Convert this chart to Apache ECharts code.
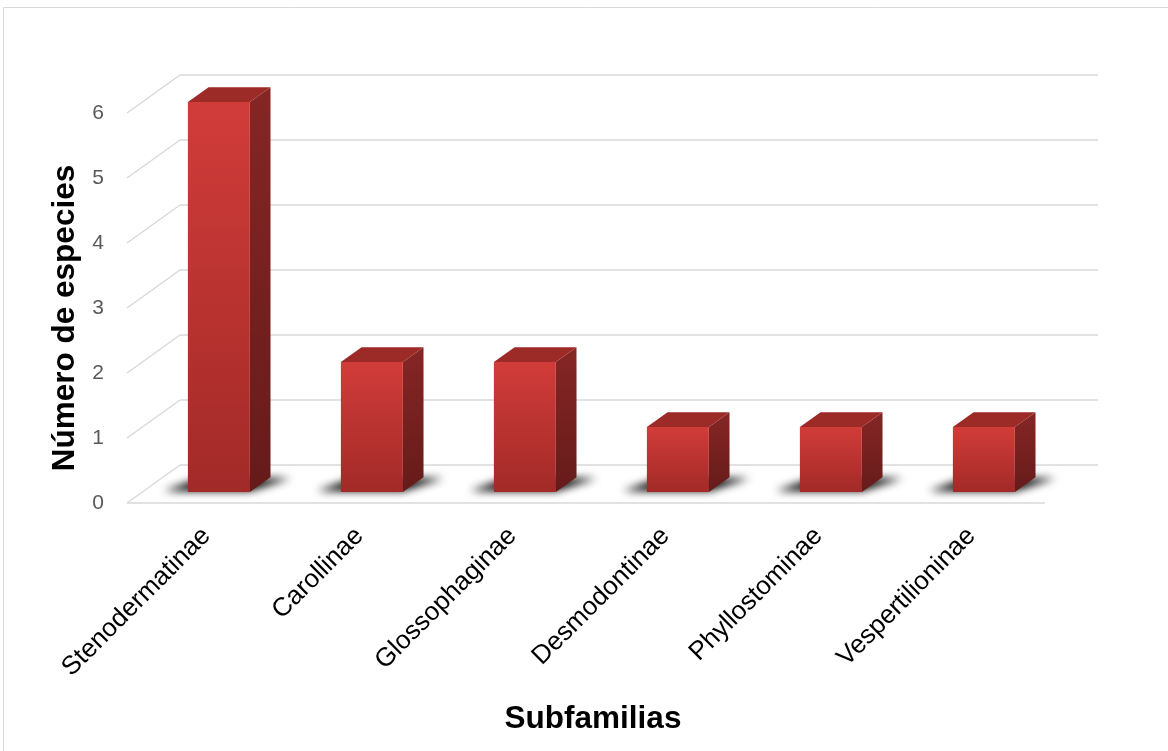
<!DOCTYPE html>
<html>
<head>
<meta charset="utf-8">
<script src="https://cdn.jsdelivr.net/npm/echarts@6/dist/echarts.min.js"></script>
<style>
html, body { margin: 0; padding: 0; background: #fff; }
#chart { width: 1168px; height: 751px; }
</style>
</head>
<body>
<div id="chart"></div>
<script>
var categories = ['Stenodermatinae', 'Carollinae', 'Glossophaginae', 'Desmodontinae', 'Phyllostominae', 'Vespertilioninae'];
var speciesCount = [6, 2, 2, 1, 1, 1];
var yTicks = [0, 1, 2, 3, 4, 5, 6];

// fake 3d: how far the back wall sits from the front plane
var DEPTH_X = 53, DEPTH_Y = -38;
var BAR_FRONT = 0.29, BAR_BACK = 0.68;
var SHADOW_SHIFT = 3000;

var chart = echarts.init(document.getElementById('chart'));

var gridLine = { stroke: '#d9d9d9', lineWidth: 1.5 };

function renderWall(params, api) {
    var v = api.value(1);
    var cs = params.coordSys;
    var y = api.coord([0, v])[1];
    var x0 = cs.x, x1 = cs.x + cs.width;
    var children = [
        { type: 'line', shape: { x1: x0, y1: y, x2: x0 + DEPTH_X, y2: y + DEPTH_Y }, style: gridLine },
        { type: 'line', shape: { x1: x0 + DEPTH_X, y1: y + DEPTH_Y, x2: x1 + DEPTH_X, y2: y + DEPTH_Y }, style: gridLine }
    ];
    if (v === 0) {
        children.push({ type: 'line', shape: { x1: x0, y1: y, x2: x1, y2: y }, style: gridLine });
    }
    return { type: 'group', children: children };
}

function renderBar(params, api) {
    var i = api.value(0), v = api.value(1);
    var top = api.coord([i, v]);
    var base = api.coord([i, 0]);
    var band = api.size([1, 0])[0];
    var w = band * 0.405;
    var fx = DEPTH_X * BAR_FRONT, fy = DEPTH_Y * BAR_FRONT;
    var ox = DEPTH_X * (BAR_BACK - BAR_FRONT), oy = DEPTH_Y * (BAR_BACK - BAR_FRONT);
    var L = top[0] + fx - w / 2, R = L + w;
    var yT = top[1] + fy, yB = base[1] + fy;
    var S = SHADOW_SHIFT;
    var shadowPts = [[L - 24, yB - 1], [R, yB - 1], [R + ox + 20, yB + oy + 1], [L + ox - 8, yB + oy + 1]];

    return {
        type: 'group',
        children: [
            // floor shadow: the shape is pushed off canvas, only its blur lands here
            {
                type: 'polygon',
                shape: { points: shadowPts.map(function (p) { return [p[0] - S, p[1]]; }) },
                style: { fill: '#000', shadowBlur: 9, shadowColor: 'rgba(0,0,0,1)', shadowOffsetX: S, shadowOffsetY: 0 }
            },
            {
                type: 'polygon',
                shape: { points: [[R, yB], [R, yT], [R + ox, yT + oy], [R + ox, yB + oy]] },
                style: {
                    fill: { type: 'linear', x: 0, y: 0, x2: 0, y2: 1, colorStops: [
                        { offset: 0, color: '#862625' }, { offset: 1, color: '#651b1a' }] }
                }
            },
            {
                type: 'polygon',
                shape: { points: [[L, yT], [R, yT], [R + ox, yT + oy], [L + ox, yT + oy]] },
                style: { fill: '#9c2a27' }
            },
            {
                type: 'rect',
                shape: { x: L, y: yT, width: w, height: yB - yT },
                style: {
                    fill: { type: 'linear', x: 0, y: 0, x2: 0, y2: 1, colorStops: [
                        { offset: 0, color: '#d13c39' }, { offset: 1, color: '#a22a28' }] }
                }
            },
            {
                type: 'text',
                x: base[0] + 3,
                y: base[1] + 29,
                rotation: Math.PI / 4,
                style: {
                    text: categories[i],
                    fill: '#000',
                    font: '26px "Liberation Sans", Arial, sans-serif',
                    align: 'right',
                    verticalAlign: 'middle'
                }
            }
        ]
    };
}

chart.setOption({
    animation: false,
    grid: { left: 127, right: 123, top: 113, bottom: 248, outerBoundsMode: 'none' },
    xAxis: {
        type: 'category',
        data: categories,
        axisLine: { show: false },
        axisTick: { show: false },
        axisLabel: { show: false }
    },
    yAxis: {
        type: 'value',
        min: 0,
        max: 6,
        interval: 1,
        axisLine: { show: false },
        axisTick: { show: false },
        splitLine: { show: false },
        axisLabel: {
            margin: 23, fontSize: 21, color: '#595959', padding: [6, 0, 0, 0],
            fontFamily: '"Liberation Sans", Arial, sans-serif'
        }
    },
    graphic: [
        { type: 'rect', shape: { x: 3.5, y: 7.5, width: 1300, height: 900 }, style: { fill: 'none', stroke: '#d9d9d9', lineWidth: 1 } },
        {
            type: 'text', x: 593, y: 719,
            style: { text: 'Subfamilias', font: 'bold 31.5px "Liberation Sans", Arial, sans-serif', fill: '#000', align: 'center', verticalAlign: 'middle' }
        },
        {
            type: 'text', x: 65, y: 318, rotation: Math.PI / 2,
            style: { text: 'Número de especies', font: 'bold 31.5px "Liberation Sans", Arial, sans-serif', fill: '#000', align: 'center', verticalAlign: 'middle' }
        }
    ],
    series: [
        {
            type: 'custom',
            silent: true,
            z: 1,
            renderItem: renderWall,
            encode: { x: 0, y: 1 },
            data: yTicks.map(function (t) { return [0, t]; })
        },
        {
            type: 'custom',
            z: 2,
            renderItem: renderBar,
            encode: { x: 0, y: 1 },
            data: speciesCount.map(function (v, i) { return [i, v]; })
        }
    ]
});
</script>
</body>
</html>
